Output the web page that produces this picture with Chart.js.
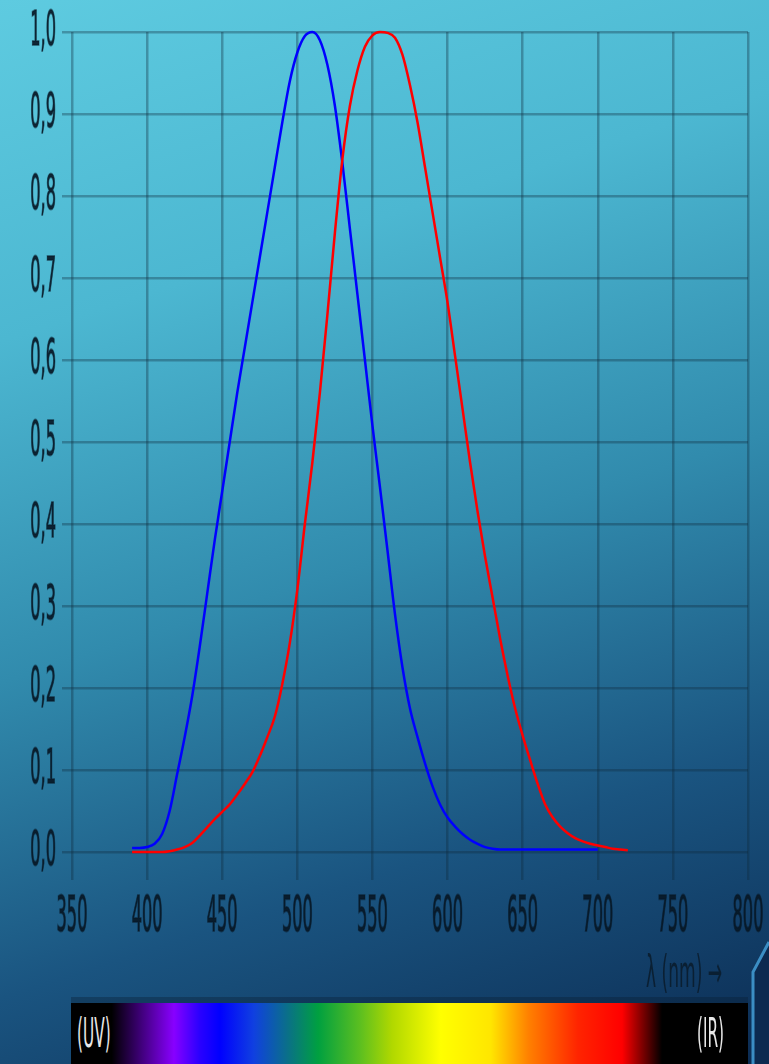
<!DOCTYPE html>
<html>
<head>
<meta charset="utf-8">
<script src="https://cdn.jsdelivr.net/npm/chart.js@4.4.0/dist/chart.umd.min.js"></script>
<style>
  html, body { margin: 0; padding: 0; }
  body {
    width: 769px; height: 1064px; overflow: hidden; position: relative;
    background: linear-gradient(162deg, #5ecbe0 0%, #4cb7d1 26%, #318bad 52%, #1a5480 76%, #0b2b52 100%);
    font-family: "DejaVu Sans Condensed", "DejaVu Sans", sans-serif;
  }
  #wrap { position: absolute; left: 0; top: 0; width: 769px; height: 960px; }
  .stretch { position: absolute; display: inline-block; white-space: nowrap; transform-origin: 50% 50%; }
  #lambda { left: 646px; top: 960px; font-size: 19px; color: #0b1d2e; transform: scaleY(2.3); opacity: 0.9; }
  #spectrum {
    position: absolute; left: 71px; top: 1003px; width: 677px; height: 61px;
    background: linear-gradient(90deg, #000 0%, #000 6%, #3a0070 10%, #8800ff 15.2%, #2a00ff 19%, #0000ff 22%,
      #1040e0 27%, #0a7088 32%, #00a040 36.5%, #5cbf20 42.7%, #b0d800 47.4%, #ffff00 54.6%, #ffe600 62%,
      #ff8000 67.6%, #ff2400 74.9%, #ff0000 81.4%, #000 87.3%, #000 100%);
  }
  #band { position: absolute; left: 71px; top: 997px; width: 677px; height: 6px; background: rgba(10,30,50,0.35); }
  .end { font-size: 17px; color: #e8e8e8; transform: scaleY(2.4); top: 1023px; }
  #uv { left: 77px; }
  #ir { left: 697px; }
  #deco { position: absolute; left: 740px; top: 930px; }
</style>
</head>
<body>
<div id="wrap"><canvas id="chart"></canvas></div>
<span id="lambda" class="stretch">λ (nm) →</span>
<div id="band"></div>
<div id="spectrum"></div>
<span id="uv" class="stretch end">(UV)</span>
<span id="ir" class="stretch end">(IR)</span>
<svg id="deco" width="29" height="134">
  <polygon points="29,12 13,42 13,134 29,134" fill="#0c2a50"/>
  <polyline points="29,12 13,42 13,134" fill="none" stroke="#3b8ec4" stroke-width="3"/>
</svg>
<script>
// wavelength grid (nm)
const wavelengths = [390, 395, 400, 405, 410, 415, 420, 425, 430, 435, 440, 445, 450, 455, 460, 465, 470, 475,
  480, 485, 490, 495, 500, 505, 510, 515, 520, 525, 530, 535, 540, 545, 550, 555, 560, 565, 570, 575,
  580, 585, 590, 595, 600, 605, 610, 615, 620, 625, 630, 635, 640, 645, 650, 655, 660, 665, 670, 675,
  680, 685, 690, 695, 700, 705, 710, 715, 720];

// blue curve (peak ~509 nm), null where it is not drawn
const blueValues = [0.005, 0.005, 0.006, 0.01, 0.022, 0.05, 0.095, 0.14, 0.19, 0.25, 0.315, 0.38, 0.44, 0.50, 0.56, 0.615, 0.67, 0.725,
  0.78, 0.835, 0.89, 0.94, 0.975, 0.995, 1.0, 0.99, 0.96, 0.91, 0.84, 0.76, 0.68, 0.60, 0.52, 0.445, 0.368, 0.29, 0.225, 0.175,
  0.14, 0.108, 0.08, 0.058, 0.042, 0.031, 0.022, 0.015, 0.01, 0.006, 0.004, 0.003, 0.003, 0.003, 0.003, 0.003, 0.003, 0.003, 0.003, 0.003,
  0.003, 0.003, 0.003, 0.003, 0.003, null, null, null, null];

// red curve (peak ~557 nm)
const redValues = [0.0, 0.0, 0.0, 0.0, 0.0, 0.001, 0.003, 0.006, 0.011, 0.02, 0.03, 0.04, 0.049, 0.058, 0.07, 0.083, 0.097, 0.117,
  0.14, 0.165, 0.205, 0.255, 0.32, 0.40, 0.475, 0.56, 0.655, 0.755, 0.845, 0.91, 0.953, 0.982, 0.996, 1.0, 0.999, 0.993, 0.972, 0.935,
  0.89, 0.835, 0.78, 0.725, 0.67, 0.605, 0.54, 0.475, 0.415, 0.36, 0.31, 0.26, 0.215, 0.175, 0.142, 0.112, 0.083, 0.058, 0.042, 0.031,
  0.023, 0.017, 0.013, 0.01, 0.008, 0.006, 0.004, 0.003, 0.002];

const xTicks = { min: 350, max: 800, step: 50 };
const yTicks = { min: 0, max: 1, step: 0.1 };

const gridColor = 'rgba(15, 40, 58, 0.34)';
const labelColor = 'rgba(8, 24, 38, 0.92)';

const toPoints = (vals) => wavelengths
  .map((w, i) => ({ x: w, y: vals[i] }))
  .filter(p => p.y !== null);

// tick labels are drawn tall and narrow like the original
const stretchLabels = {
  id: 'stretchLabels',
  afterDraw(chart) {
    const ctx = chart.ctx;
    const xs = chart.scales.x, ys = chart.scales.y;
    ctx.save();
    ctx.fillStyle = labelColor;
    ctx.strokeStyle = 'rgba(8, 24, 38, 0.5)';
    ctx.lineWidth = 0.7;
    ctx.font = '18px "DejaVu Sans Condensed"';
    ctx.textBaseline = 'middle';
    ctx.textAlign = 'right';
    ys.ticks.forEach((t, i) => {
      ctx.save();
      ctx.translate(56, ys.getPixelForTick(i));
      ctx.scale(1, 2.7);
      ctx.fillText(t.label, 0, 0);
      ctx.strokeText(t.label, 0, 0);
      ctx.restore();
    });
    ctx.textAlign = 'center';
    xs.ticks.forEach((t, i) => {
      ctx.save();
      ctx.translate(xs.getPixelForTick(i), 918);
      ctx.scale(1, 2.8);
      ctx.fillText(t.label, 0, 0);
      ctx.strokeText(t.label, 0, 0);
      ctx.restore();
    });
    ctx.restore();
  }
};

new Chart(document.getElementById('chart'), {
  type: 'line',
  data: {
    datasets: [
      {
        label: 'V(λ)',
        data: toPoints(redValues),
        borderColor: '#ff0000',
        borderWidth: 2.5,
        pointRadius: 0,
        cubicInterpolationMode: 'monotone',
        fill: false,
        clip: 6
      },
      {
        label: "V'(λ)",
        data: toPoints(blueValues),
        borderColor: '#0000ff',
        borderWidth: 2.5,
        pointRadius: 0,
        cubicInterpolationMode: 'monotone',
        fill: false,
        clip: 6
      }
    ]
  },
  options: {
    responsive: true,
    maintainAspectRatio: false,
    animation: false,
    layout: { padding: { top: 32, right: 21, left: 0, bottom: 0 } },
    plugins: { legend: { display: false }, tooltip: { enabled: false } },
    scales: {
      x: {
        type: 'linear',
        min: xTicks.min,
        max: xTicks.max,
        afterFit: (s) => { s.height = 108; },
        grid: { color: gridColor, lineWidth: 2.5, tickLength: 28, tickColor: gridColor },
        border: { display: false },
        ticks: { display: false, stepSize: xTicks.step, callback: (v) => String(v) }
      },
      y: {
        min: yTicks.min,
        max: yTicks.max,
        afterFit: (s) => { s.width = 72; },
        grid: { color: gridColor, lineWidth: 2.5, tickLength: 10, tickColor: gridColor },
        border: { display: false },
        ticks: { display: false, stepSize: yTicks.step, callback: (v) => v.toFixed(1).replace('.', ',') }
      }
    }
  },
  plugins: [stretchLabels]
});
</script>
</body>
</html>
